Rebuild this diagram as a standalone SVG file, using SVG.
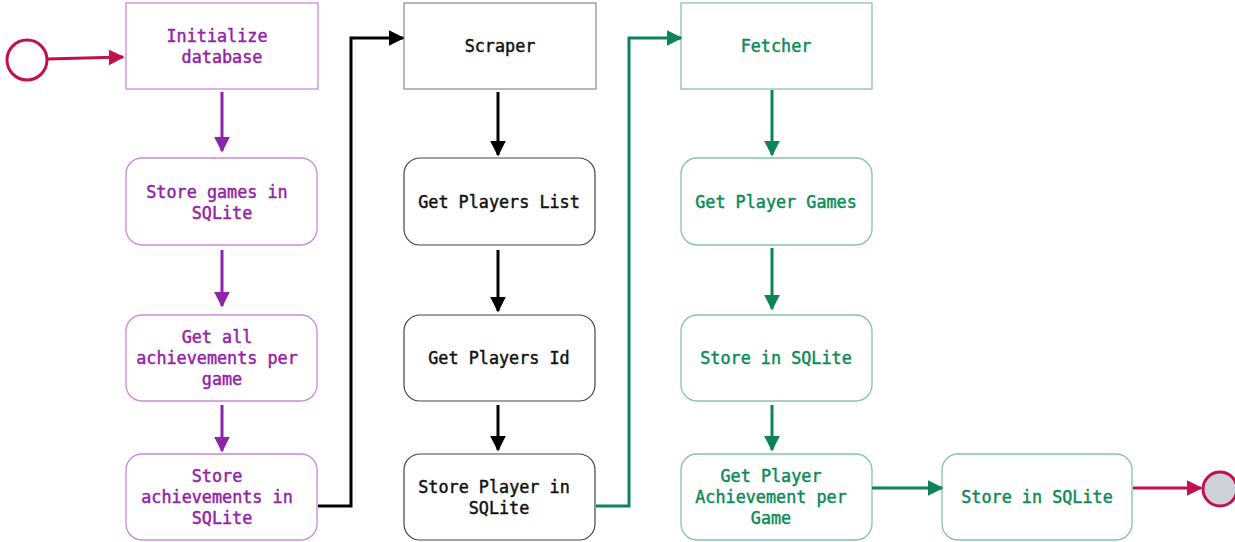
<svg xmlns="http://www.w3.org/2000/svg" width="1235" height="542" viewBox="0 0 1235 542">
<style>
text{font-family:"DejaVu Sans Mono","Liberation Mono",monospace;font-size:16.8px;font-weight:normal;text-anchor:middle;stroke-width:0.45px}
.p rect{fill:#fff;stroke:#c98ad6;stroke-width:1.3}
.p text{fill:#9322a6;stroke:#9322a6}
.k rect{fill:#fff;stroke:#444;stroke-width:1.2}
.k text{fill:#111;stroke:#111}
#n5 rect{stroke:#888}
.g rect{fill:#fff;stroke:#84c4a6;stroke-width:1.3}
.g text{fill:#0b8a57;stroke:#0b8a57}
.c{fill:none;stroke-width:3}
</style>
<defs>
<marker id="ap" viewBox="0 0 10 10" refX="9" refY="5" markerWidth="5.3" markerHeight="5.3" orient="auto" markerUnits="strokeWidth"><path d="M0,0L10,5L0,10z" fill="#8e24aa"/></marker>
<marker id="ak" viewBox="0 0 10 10" refX="9" refY="5" markerWidth="5.3" markerHeight="5.3" orient="auto" markerUnits="strokeWidth"><path d="M0,0L10,5L0,10z" fill="#000"/></marker>
<marker id="ag" viewBox="0 0 10 10" refX="9" refY="5" markerWidth="5.3" markerHeight="5.3" orient="auto" markerUnits="strokeWidth"><path d="M0,0L10,5L0,10z" fill="#0b8457"/></marker>
<marker id="ar" viewBox="0 0 10 10" refX="9" refY="5" markerWidth="5.3" markerHeight="5.3" orient="auto" markerUnits="strokeWidth"><path d="M0,0L10,5L0,10z" fill="#c2104f"/></marker>
</defs>
<rect width="1235" height="542" fill="#fff"/>
<g id="start"><circle cx="27" cy="60" r="20" fill="#fff" stroke="#c2104f" stroke-width="3"/></g>
<g id="end"><circle cx="1220" cy="489" r="17" fill="#cdd1d8" stroke="#c2104f" stroke-width="3"/></g>
<g id="n1" class="p"><rect x="126" y="3" width="192" height="86"/><text x="217" y="42">Initialize</text><text x="222" y="63">database</text></g>
<g id="n2" class="p"><rect x="126" y="158" width="191" height="87" rx="16"/><text x="217" y="198">Store games in</text><text x="222" y="219">SQLite</text></g>
<g id="n3" class="p"><rect x="126" y="315" width="191" height="86" rx="16"/><text x="217" y="343">Get all</text><text x="217" y="364">achievements per</text><text x="222" y="385">game</text></g>
<g id="n4" class="p"><rect x="126" y="454" width="191" height="86" rx="16"/><text x="217" y="482">Store</text><text x="217" y="503">achievements in</text><text x="222" y="524">SQLite</text></g>
<g id="n5" class="k"><rect x="404" y="3" width="192" height="86"/><text x="500" y="52">Scraper</text></g>
<g id="n6" class="k"><rect x="404" y="158" width="191" height="87" rx="16"/><text x="499" y="208">Get Players List</text></g>
<g id="n7" class="k"><rect x="404" y="315" width="191" height="86" rx="16"/><text x="499" y="364">Get Players Id</text></g>
<g id="n8" class="k"><rect x="404" y="454" width="191" height="86" rx="16"/><text x="494" y="493">Store Player in</text><text x="499" y="514">SQLite</text></g>
<g id="n9" class="g"><rect x="681" y="3" width="191" height="86"/><text x="776" y="52">Fetcher</text></g>
<g id="n10" class="g"><rect x="681" y="158" width="191" height="87" rx="16"/><text x="776" y="208">Get Player Games</text></g>
<g id="n11" class="g"><rect x="681" y="315" width="191" height="86" rx="16"/><text x="776" y="364">Store in SQLite</text></g>
<g id="n12" class="g"><rect x="681" y="454" width="191" height="86" rx="16"/><text x="771" y="482">Get Player</text><text x="771" y="503">Achievement per</text><text x="771" y="524">Game</text></g>
<g id="n13" class="g"><rect x="942" y="454" width="190" height="86" rx="16"/><text x="1037" y="503">Store in SQLite</text></g>
<g id="connectors">
<path class="c" d="M47,59L123,57" stroke="#c2104f" marker-end="url(#ar)"/>
<path class="c" d="M222,92V151" stroke="#8e24aa" marker-end="url(#ap)"/>
<path class="c" d="M222,250V306" stroke="#8e24aa" marker-end="url(#ap)"/>
<path class="c" d="M222,405V451" stroke="#8e24aa" marker-end="url(#ap)"/>
<path class="c" d="M318,506H351V38H403" stroke="#000" marker-end="url(#ak)"/>
<path class="c" d="M498,92V155" stroke="#000" marker-end="url(#ak)"/>
<path class="c" d="M498,250V311" stroke="#000" marker-end="url(#ak)"/>
<path class="c" d="M498,405V450" stroke="#000" marker-end="url(#ak)"/>
<path class="c" d="M596,506H629V38H681" stroke="#0b8457" marker-end="url(#ag)"/>
<path class="c" d="M772,90V155" stroke="#0b8457" marker-end="url(#ag)"/>
<path class="c" d="M772,248V309" stroke="#0b8457" marker-end="url(#ag)"/>
<path class="c" d="M772,405V450" stroke="#0b8457" marker-end="url(#ag)"/>
<path class="c" d="M872,488H942" stroke="#0b8457" marker-end="url(#ag)"/>
<path class="c" d="M1133,488H1201" stroke="#c2104f" marker-end="url(#ar)"/>
</g>
</svg>
